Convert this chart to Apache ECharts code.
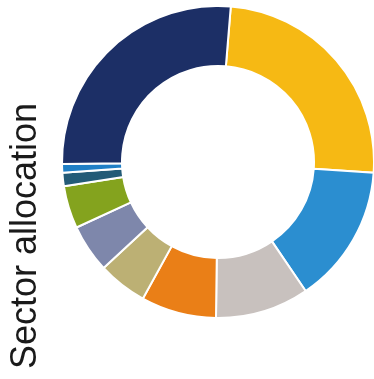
<!DOCTYPE html>
<html>
<head>
<meta charset="utf-8">
<style>
  html, body { margin: 0; padding: 0; background: #ffffff; }
  #chart { width: 374px; height: 379px; }
</style>
<script src="https://cdn.jsdelivr.net/npm/echarts@6/dist/echarts.min.js"></script>
</head>
<body>
<div id="chart"></div>
<script>
// Sector weights (%) in clockwise order from the top
const sectors = ['Sector 1', 'Sector 2', 'Sector 3', 'Sector 4', 'Sector 5',
                 'Sector 6', 'Sector 7', 'Sector 8', 'Sector 9', 'Sector 10'];
const weights = [24.8, 14.4, 9.7, 7.8, 5.1, 5.0, 4.4, 1.4, 0.9, 26.5];
const colors  = ['#f6b914', '#2b8ed0', '#c8c1be', '#ea7f17', '#bcb074',
                 '#7e87ab', '#84a31e', '#235b77', '#1f7fc6', '#1c2f66'];
const title = 'Sector allocation';

const chart = echarts.init(document.getElementById('chart'), null, { renderer: 'canvas' });

chart.setOption({
  backgroundColor: '#ffffff',
  animation: false,
  graphic: [{
    type: 'text',
    x: 26,
    y: 236,
    rotation: Math.PI / 2,
    style: {
      text: title,
      fontFamily: 'Liberation Sans, Arial, sans-serif',
      fontSize: 36,
      fill: '#1a1a1a',
      textAlign: 'center',
      textVerticalAlign: 'middle'
    }
  }],
  series: [{
    type: 'pie',
    center: [218, 162],
    radius: [96, 156],
    startAngle: 85.3,
    clockwise: true,
    label: { show: false },
    labelLine: { show: false },
    itemStyle: { borderColor: '#ffffff', borderWidth: 2 },
    data: sectors.map((name, i) => ({
      name: name,
      value: weights[i],
      itemStyle: { color: colors[i] }
    }))
  }]
});
</script>
</body>
</html>
